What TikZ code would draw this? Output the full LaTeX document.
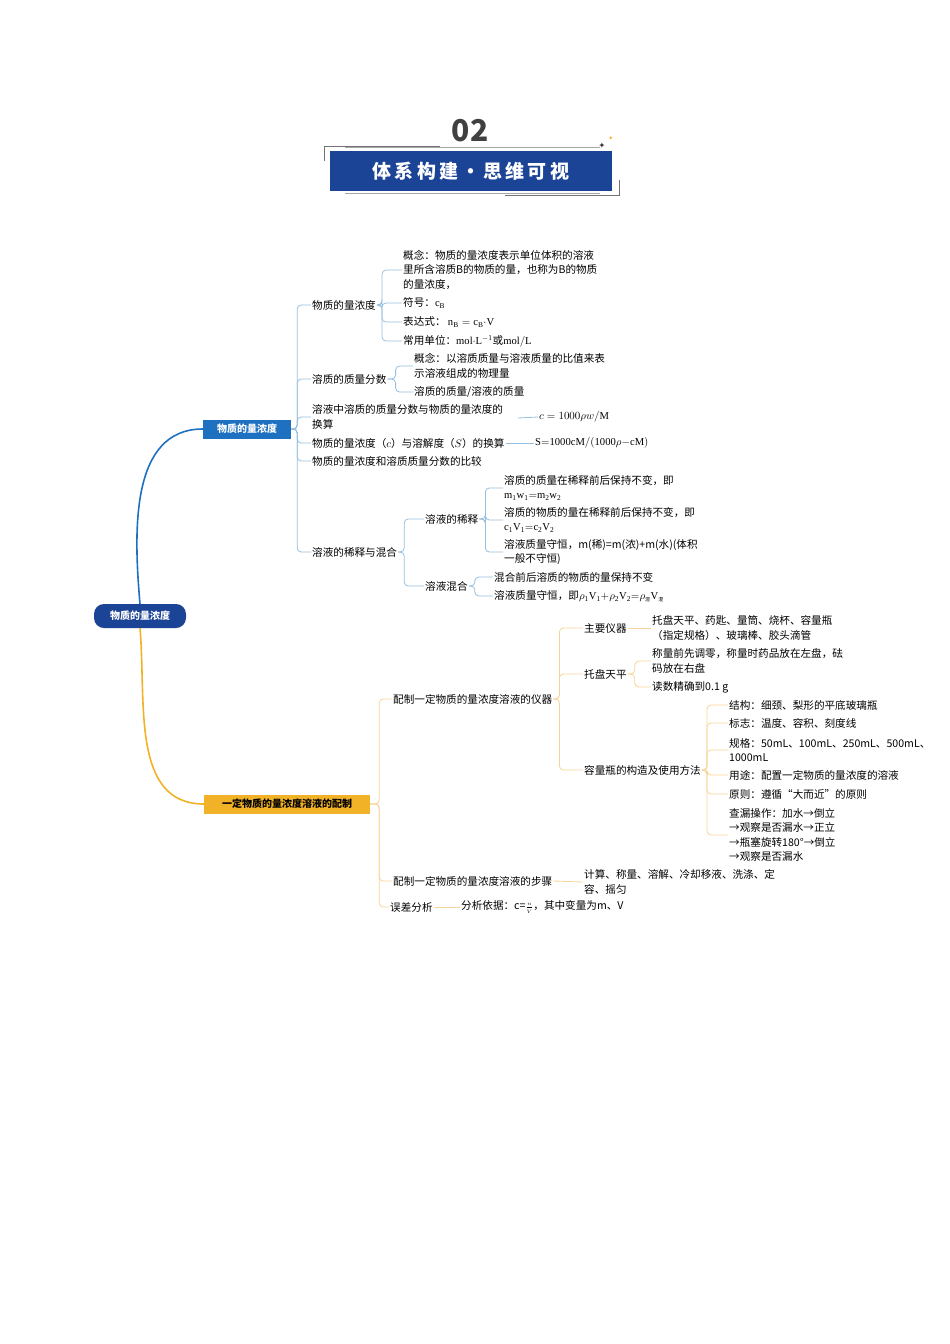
\documentclass[tikz,border=0pt]{standalone}
\usepackage{fontspec}
\setmainfont{Liberation Serif}
\newfontfamily\cjk{Noto Sans CJK SC}
\newfontfamily\dejavu{DejaVu Sans}
\usetikzlibrary{calc}
\definecolor{hdblue}{RGB}{28,68,150}
\definecolor{bblue}{RGB}{30,112,192}
\definecolor{lblue}{RGB}{150,190,222}
\definecolor{borange}{RGB}{242,178,40}
\definecolor{lorange}{RGB}{246,212,150}
\newcommand\fs{\cjk\fontsize{10.6}{14.6}\selectfont}
\begin{document}
\begin{tikzpicture}[x=1pt,y=-1pt,
 t/.style={anchor=west,inner sep=1pt,font=\fs,align=left},
 lb/.style={draw=lblue,line width=0.8pt,rounded corners=4pt},
 lo/.style={draw=lorange,line width=0.8pt,rounded corners=4pt}]
\useasboundingbox (0,0) rectangle (950,1344);
% header
\node[font=\cjk\bfseries\fontsize{30}{30}\selectfont,text=black!75] (num) at (470,131) {02};
\draw[black!55,line width=0.8pt] (324,161) -- (324,146) -- (440,146);
\draw[black!55,line width=0.8pt] (619,180) -- (619,195) -- (505,195);
\draw[black!35,line width=0.6pt] (345,147.5) -- (600,147.5);
\draw[black!35,line width=0.6pt] (345,193.5) -- (600,193.5);
\node[fill=hdblue,minimum width=282pt,minimum height=40pt,inner sep=0pt,text=white,font=\cjk\bfseries\fontsize{19}{19}\selectfont] (title) at (471,171) {体\,系\,构\,建\,·\,思\,维\,可\,视};
\node[font=\dejavu\fontsize{8}{8}\selectfont,text=black!80,inner sep=0pt] (s1) at (602,146) {✦};
\node[font=\dejavu\fontsize{6}{6}\selectfont,text=borange,inner sep=0pt] (s2) at (611,138) {✦};
% root and branches
\node[fill=hdblue,rounded corners=10pt,text=white,font=\cjk\bfseries\fontsize{10}{11}\selectfont,minimum width=92pt,minimum height=24pt] (root) at (140,616) {物质的量浓度};
\node[fill=bblue,text=white,font=\cjk\bfseries\fontsize{10}{11}\selectfont,minimum width=88pt,minimum height=19pt,inner sep=1pt] (b1) at (247,429) {物质的量浓度};
\node[fill=borange,text=black,font=\cjk\bfseries\fontsize{10}{11}\selectfont,minimum width=166pt,minimum height=19pt,inner sep=1pt] (b2) at (287,804) {一定物质的量浓度溶液的配制};
\draw[bblue,line width=1.6pt] (root.north) to[out=95,in=180] (b1.west);
\draw[borange,line width=1.6pt] (root.south) to[out=-85,in=180] (b2.west);
% branch 1 children
\node[t] (a1) at (311,305) {物质的量浓度};
\node[t] (a2) at (311,379) {溶质的质量分数};
\node[t] (a3) at (311,417) {溶液中溶质的质量分数与物质的量浓度的\\换算};
\node[t] (a4) at (311,443) {物质的量浓度（$c$）与溶解度（$S$）的换算};
\node[t] (a5) at (311,461) {物质的量浓度和溶质质量分数的比较};
\node[t] (a6) at (311,552) {溶液的稀释与混合};
\foreach \c in {a1,a2,a3,a4,a5,a6} \draw[lb] (b1.east) -- ++(6,0) |- (\c.west);
% a1 children
\node[t] (a11) at (402,270) {概念：物质的量浓度表示单位体积的溶液\\里所含溶质B的物质的量，也称为B的物质\\的量浓度，};
\node[t] (a12) at (402,303) {符号：$\mathrm{c_B}$};
\node[t] (a13) at (402,322) {表达式：\ $\mathrm{n_B=c_B{\cdot}V}$};
\node[t] (a14) at (402,341) {常用单位：$\mathrm{mol{\cdot}L^{-1}}$或$\mathrm{mol/L}$};
\foreach \c in {a11,a12,a13,a14} \draw[lb] (a1.east) -- ++(5,0) |- (\c.west);
% a2 children
\node[t] (a21) at (413,366) {概念：以溶质质量与溶液质量的比值来表\\示溶液组成的物理量};
\node[t] (a22) at (413,392) {溶质的质量/溶液的质量};
\foreach \c in {a21,a22} \draw[lb] (a2.east) -- ++(8,0) |- (\c.west);
\node[t] (a31) at (538,417) {$c=1000\rho w/\mathrm{M}$};
\draw[lb] (518,418) -- (a31.west);
\node[t] (a41) at (534,443) {$\mathrm{S{=}1000cM/(1000\rho{-}cM)}$};
\draw[lb] (a4.east) -- (a41.west);
% a6
\node[t] (a61) at (424,519) {溶液的稀释};
\node[t] (a62) at (424,586) {溶液混合};
\foreach \c in {a61,a62} \draw[lb] (a6.east) -- ++(6,0) |- (\c.west);
\node[t] (a611) at (503,488) {溶质的质量在稀释前后保持不变，即\\$\mathrm{m_1w_1{=}m_2w_2}$};
\node[t] (a612) at (503,520) {溶质的物质的量在稀释前后保持不变，即\\$\mathrm{c_1V_1{=}c_2V_2}$};
\node[t] (a613) at (503,552) {溶液质量守恒，m(稀)=m(浓)+m(水)(体积\\一般不守恒)};
\foreach \c in {a611,a612,a613} \draw[lb] (a61.east) -- ++(6,0) |- (\c.west);
\node[t] (a621) at (493,577) {混合前后溶质的物质的量保持不变};
\node[t] (a622) at (493,596) {溶液质量守恒，即$\mathrm{\rho_1V_1{+}\rho_2V_2{=}\rho_{\mbox{\fontsize{5}{5}\cjk 混}}V_{\mbox{\fontsize{5}{5}\cjk 混}}}$};
\foreach \c in {a621,a622} \draw[lb] (a62.east) -- ++(6,0) |- (\c.west);
% branch 2 children
\node[t] (c1) at (392,699) {配制一定物质的量浓度溶液的仪器};
\node[t] (c2) at (392,881) {配制一定物质的量浓度溶液的步骤};
\node[t] (c3) at (389,907) {误差分析};
\foreach \c in {c1,c2,c3} \draw[lo] (b2.east) -- ++(9,0) |- (\c.west);
\node[t] (c11) at (583,628) {主要仪器};
\node[t] (c12) at (583,674) {托盘天平};
\node[t] (c13) at (583,770) {容量瓶的构造及使用方法};
\foreach \c in {c11,c12,c13} \draw[lo] (c1.east) -- ++(6,0) |- (\c.west);
\node[t] (c111) at (651,628) {托盘天平、药匙、量筒、烧杯、容量瓶\\（指定规格）、玻璃棒、胶头滴管};
\draw[lo] (c11.east) -- (c111.west);
\node[t] (c121) at (651,661) {称量前先调零，称量时药品放在左盘，砝\\码放在右盘};
\node[t] (c122) at (651,687) {读数精确到0.1 g};
\foreach \c in {c121,c122} \draw[lo] (c12.east) -- ++(7,0) |- (\c.west);
\node[t] (c131) at (728,705) {结构：细颈、梨形的平底玻璃瓶};
\node[t] (c132) at (728,723) {标志：温度、容积、刻度线};
\node[t] (c133) at (728,750) {规格：50mL、100mL、250mL、500mL、\\1000mL};
\node[t] (c134) at (728,775) {用途：配置一定物质的量浓度的溶液};
\node[t] (c135) at (728,794) {原则：遵循“大而近”的原则};
\node[t] (c136) at (728,835) {查漏操作：加水→倒立\\→观察是否漏水→正立\\→瓶塞旋转180°→倒立\\→观察是否漏水};
\foreach \c in {c131,c132,c133,c134,c135,c136} \draw[lo] (c13.east) -- ++(5,0) |- (\c.west);
\node[t] (c21) at (583,882) {计算、称量、溶解、冷却移液、洗涤、定\\容、摇匀};
\draw[lo] (c2.east) -- (c21.west);
\node[t] (c31) at (460,907) {分析依据：c=$\frac{\scriptscriptstyle n}{\scriptscriptstyle V}$，其中变量为m、V};
\draw[lo] (c3.east) -- (c31.west);
\end{tikzpicture}
\end{document}
